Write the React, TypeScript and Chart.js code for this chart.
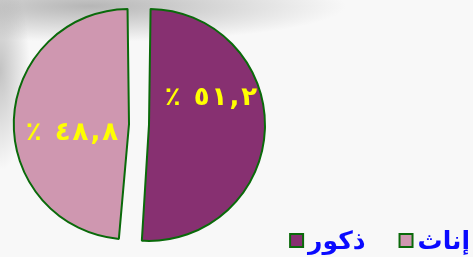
import React, { useEffect, useRef } from "react";
import { Chart, registerables } from "chart.js";

Chart.register(...registerables);

// ---- data ----
const categories: string[] = ["ذكور", "إناث"];
const values: number[] = [51.2, 48.8];
const valueLabels: string[] = ["٪ ٥١,٢", "٪ ٤٨,٨"];

// ---- styles / layout ----
const sliceColors = ["#873071", "#cf97b0"];
const borderGreen = "#0a6a0a";
const OFFSET = 40; // chart.js v4 translates arcs by offset/4
const labelShift = [
  { dx: 62, dy: -27 },
  { dx: -57, dy: 9 },
];
const LABEL_SPACING = 2;

function drawSpaced(ctx: CanvasRenderingContext2D, text: string, cx: number, cy: number, spacing: number) {
  const chars = Array.from(text);
  const widths = chars.map((c) => ctx.measureText(c).width);
  const total = widths.reduce((a, b) => a + b, 0) + spacing * (chars.length - 1);
  let x = cx - total / 2;
  ctx.textAlign = "left";
  chars.forEach((c, i) => {
    ctx.fillText(c, x, cy);
    x += widths[i] + spacing;
  });
}

const bgPlugin = {
  id: "bgPlugin",
  beforeDraw(chart: any) {
    const { ctx, width, height } = chart;
    ctx.save();
    ctx.fillStyle = "#f8f8f8";
    ctx.fillRect(0, 0, width, height);
    ctx.save();
    ctx.translate(90, 6);
    ctx.scale(3.2, 0.45);
    let g = ctx.createRadialGradient(0, 0, 0, 0, 0, 80);
    g.addColorStop(0, "rgba(160,160,160,0.75)");
    g.addColorStop(1, "rgba(160,160,160,0)");
    ctx.fillStyle = g;
    ctx.fillRect(-80, -80, 160, 160);
    ctx.restore();
    ctx.save();
    ctx.translate(0, 70);
    ctx.scale(0.3, 1);
    g = ctx.createRadialGradient(0, 0, 0, 0, 0, 100);
    g.addColorStop(0, "rgba(160,160,160,0.6)");
    g.addColorStop(1, "rgba(160,160,160,0)");
    ctx.fillStyle = g;
    ctx.fillRect(-100, -100, 200, 200);
    ctx.restore();
    ctx.restore();
  },
};

const labelPlugin = {
  id: "labelPlugin",
  afterDatasetsDraw(chart: any) {
    const { ctx } = chart;
    const meta = chart.getDatasetMeta(0);
    ctx.save();
    ctx.font = "bold 26px 'DejaVu Sans'";
    ctx.fillStyle = "#ffff00";
    ctx.textBaseline = "middle";
    ctx.direction = "ltr";
    meta.data.forEach((arc: any, i: number) => {
      const p = arc.getProps(["x", "y", "startAngle", "endAngle"], true);
      const mid = (p.startAngle + p.endAngle) / 2;
      const cx = p.x + Math.cos(mid) * (OFFSET / 4);
      const cy = p.y + Math.sin(mid) * (OFFSET / 4);
      const s = labelShift[i] || { dx: 0, dy: 0 };
      drawSpaced(ctx, valueLabels[i], cx + s.dx, cy + s.dy, LABEL_SPACING);
    });
    ctx.restore();
  },
};

const legendPlugin = {
  id: "legendPlugin",
  afterDraw(chart: any) {
    const { ctx } = chart;
    ctx.save();
    ctx.font = "bold 25px 'DejaVu Sans'";
    ctx.textBaseline = "alphabetic";
    ctx.textAlign = "right";
    const baseline = 249;
    const box = 13;
    let right = 470;
    for (let k = categories.length - 1; k >= 0; k--) {
      const text = categories[k];
      const w = ctx.measureText(text).width;
      ctx.fillStyle = "#0a0aff";
      ctx.fillText(text, right, baseline);
      const bx = right - w - 5 - box;
      ctx.fillStyle = sliceColors[k];
      ctx.fillRect(bx, 234, box, box);
      ctx.strokeStyle = borderGreen;
      ctx.lineWidth = 2;
      ctx.strokeRect(bx, 234, box, box);
      right = bx - 34;
    }
    ctx.restore();
  },
};

export default function App() {
  const ref = useRef<HTMLCanvasElement | null>(null);
  useEffect(() => {
    document.body.style.margin = "0";
    if (!ref.current) return;
    const chart = new Chart(ref.current, {
      type: "pie",
      data: {
        labels: categories,
        datasets: [
          {
            data: values,
            backgroundColor: sliceColors,
            borderColor: borderGreen,
            borderWidth: 2,
            offset: OFFSET,
            radius: 106,
          } as any,
        ],
      },
      options: {
        responsive: false,
        animation: false,
        devicePixelRatio: 1,
        layout: { padding: { left: 0, right: 195, top: 0, bottom: 8 } },
        plugins: {
          legend: { display: false },
          tooltip: { enabled: false },
        },
      },
      plugins: [bgPlugin, labelPlugin, legendPlugin],
    });
    return () => chart.destroy();
  }, []);
  return (
    <div style={{ width: 473, height: 257 }}>
      <canvas ref={ref} width={473} height={257} style={{ display: "block" }} />
    </div>
  );
}
